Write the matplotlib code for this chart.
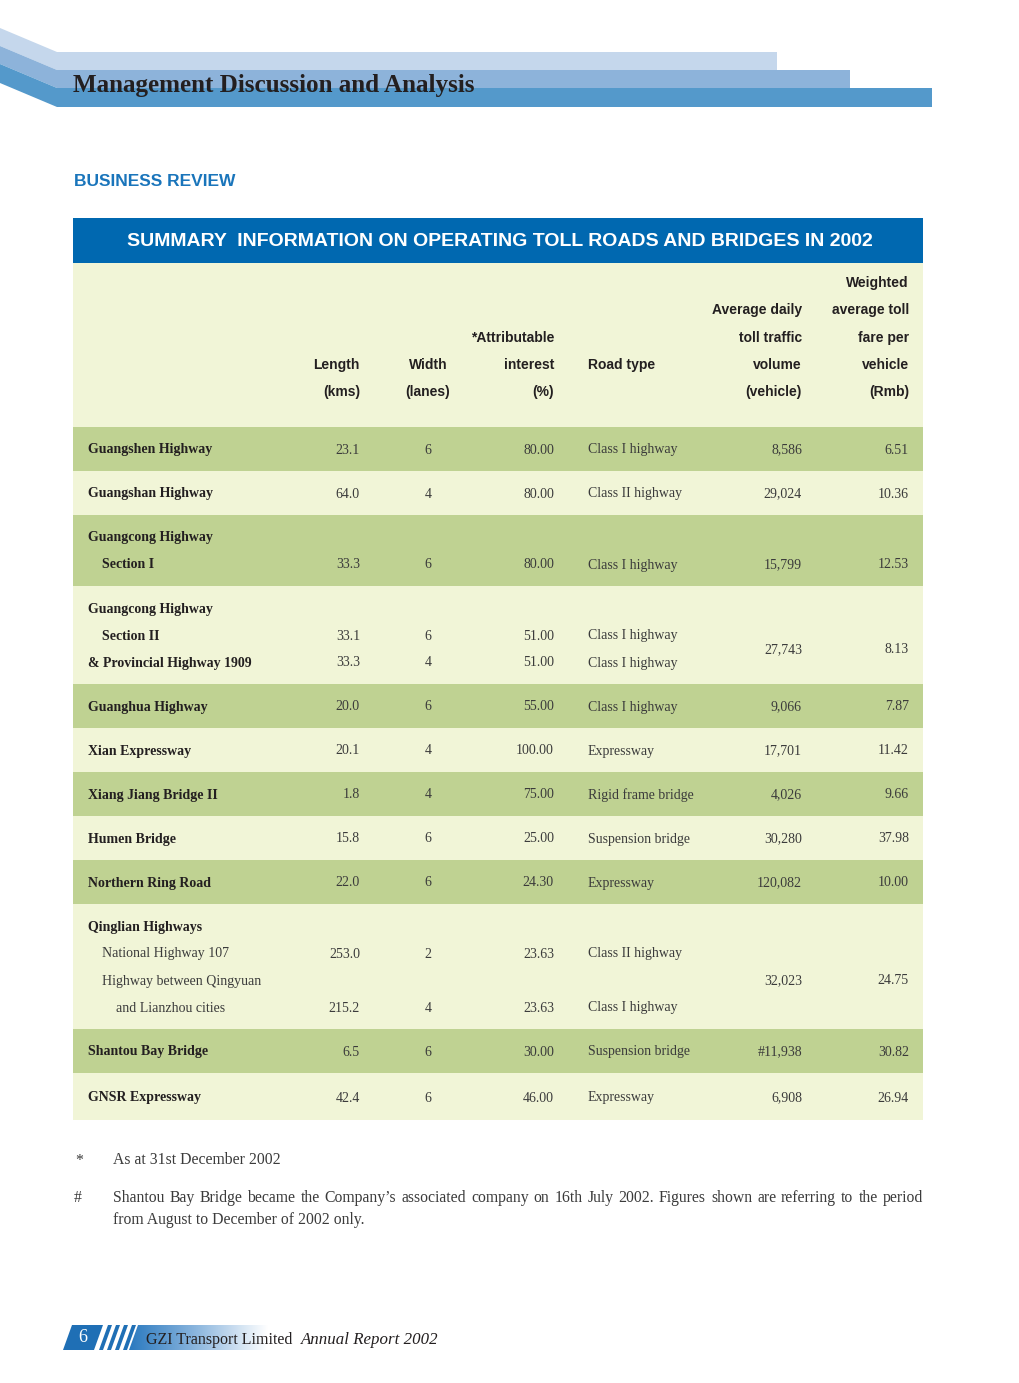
import numpy as np
import matplotlib
matplotlib.use('agg')
import matplotlib.pyplot as plt
from matplotlib.patches import Polygon, Rectangle
from matplotlib.colors import LinearSegmentedColormap

# table data, one entry per printed line of the table body
row_labels = ["Guangshen Highway", "Guangshan Highway", "Guangcong Highway", "Section I",
              "Guangcong Highway", "Section II", "& Provincial Highway 1909",
              "Guanghua Highway", "Xian Expressway", "Xiang Jiang Bridge II", "Humen Bridge",
              "Northern Ring Road", "Qinglian Highways", "National Highway 107",
              "Highway between Qingyuan", "and Lianzhou cities", "Shantou Bay Bridge",
              "GNSR Expressway"]
row_indent = [0, 0, 0, 1, 0, 1, 0, 0, 0, 0, 0, 0, 0, 1, 1, 2, 0, 0]
row_bold = [1, 1, 1, 1, 1, 1, 1, 1, 1, 1, 1, 1, 1, 0, 0, 0, 1, 1]
lengths = ["23.1", "64.0", "", "33.3", "", "33.1", "33.3", "20.0", "20.1", "1.8", "15.8",
           "22.0", "", "253.0", "", "215.2", "6.5", "42.4"]
lanes = ["6", "4", "", "6", "", "6", "4", "6", "4", "4", "6", "6", "", "2", "", "4", "6", "6"]
interest = ["80.00", "80.00", "", "80.00", "", "51.00", "51.00", "55.00", "100.00", "75.00",
            "25.00", "24.30", "", "23.63", "", "23.63", "30.00", "46.00"]
road_types = ["Class I highway", "Class II highway", "", "Class I highway", "",
              "Class I highway", "Class I highway", "Class I highway", "Expressway",
              "Rigid frame bridge", "Suspension bridge", "Expressway", "", "Class II highway",
              "", "Class I highway", "Suspension bridge", "Expressway"]

# one entry per road (group of lines)
group_lines = [1, 1, 2, 3, 1, 1, 1, 1, 1, 4, 1, 1]
volumes = ["8,586", "29,024", "15,799", "27,743", "9,066", "17,701", "4,026", "30,280",
           "120,082", "32,023", "#11,938", "6,908"]
fares = ["6.51", "10.36", "12.53", "8.13", "7.87", "11.42", "9.66", "37.98", "10.00",
         "24.75", "30.82", "26.94"]

# column headings (bottom aligned)
head_length = ["Length", "(kms)"]
head_width = ["Width", "(lanes)"]
head_interest = ["*Attributable", "interest", "(%)"]
head_type = ["Road type", ""]
head_volume = ["Average daily", "toll traffic", "volume", "(vehicle)"]
head_fare = ["Weighted", "average toll", "fare per", "vehicle", "(Rmb)"]

title = "Management Discussion and Analysis"
section = "BUSINESS REVIEW"
banner = "SUMMARY  INFORMATION ON OPERATING TOLL ROADS AND BRIDGES IN 2002"
note1 = "As at 31st December 2002"
note2a = ("Shantou Bay Bridge became the Company\u2019s associated company on 16th July 2002. "
          "Figures shown are referring to the period")
note2b = "from August to December of 2002 only."

W, H = 1020, 1383
fig = plt.figure(figsize=(W / 100, H / 100), dpi=100)
ax = fig.add_axes([0, 0, 1, 1])
ax.axis('off')
ax.set_xlim(0, W)
ax.set_ylim(H, 0)

serif = ['Liberation Serif', 'DejaVu Serif']
sans = ['Liberation Sans', 'DejaVu Sans']

# header stripes
stripes = [(28, 52, 70, 777, '#c5d7ec'), (46, 70, 88, 850, '#8db3da'), (64, 88, 107, 932, '#5499cb')]
for y0, top, bot, right, col in stripes:
    ax.add_patch(Polygon([(0, y0), (57, top), (right, top), (right, bot), (57, bot), (0, y0 + (bot - top))],
                         closed=True, fc=col, ec='none'))
ax.text(73, 92, title, family=serif, fontsize=18.1, fontweight='bold', color='#231f20', va='baseline')

ax.text(74, 181, section, family=sans, fontsize=12.5,
        fontweight='bold', color='#1a75bb', va='center')

# banner + table background
L, R = 73, 923
ax.add_patch(Rectangle((L, 218), R - L, 45, fc='#0068b0', ec='none'))
ax.text((L + R) / 2 + 2, 241, banner, family=sans, fontsize=14, fontweight='bold',
        color='white', ha='center', va='center')
ax.add_patch(Rectangle((L, 263), R - L, 1120 - 263, fc='#f1f5d7', ec='none'))

# column anchors
x_label, x_len, x_wid, x_int, x_type, x_vol, x_fare = 88, 360, 428, 554, 588, 802, 909
head_color = '#231f20'
hy0, hstep = 283, 27.3
for col, xpos, ha in [(head_length, x_len, 'right'), (head_width, x_wid, 'center'),
                      (head_interest, x_int, 'right'), (head_type, x_type, 'left'),
                      (head_volume, x_vol, 'right'), (head_fare, x_fare, 'right')]:
    off = 5 - len(col)
    for k, t in enumerate(col):
        ax.text(xpos, hy0 + (off + k) * hstep, t, family=sans, fontsize=10, fontweight='bold',
                color=head_color, ha=ha, va='center')

# body
y = 427
step, pad = 27.0, 17.0
line = 0
body_color = '#3b3b3b'
for g, n in enumerate(group_lines):
    h = n * step + pad
    last = g == len(group_lines) - 1
    if last:
        h += 3
    if g % 2 == 0:
        ax.add_patch(Rectangle((L, y), R - L, h, fc='#bfd292', ec='none'))
    ys = []
    for k in range(n):
        ty = y + pad / 2 + step / 2 + 1 + k * step + (2 if last else 0)
        i = line + k
        fw = 'bold' if row_bold[i] else 'normal'
        c = '#231f20' if row_bold[i] else body_color
        ax.text(x_label + 14 * row_indent[i], ty, row_labels[i], family=serif, fontsize=10,
                fontweight=fw, color=c, va='center')
        ax.text(x_len, ty, lengths[i], family=serif, fontsize=10, color=body_color, ha='right', va='center')
        ax.text(x_wid, ty, lanes[i], family=serif, fontsize=10, color=body_color, ha='center', va='center')
        ax.text(x_int, ty, interest[i], family=serif, fontsize=10, color=body_color, ha='right', va='center')
        ax.text(x_type, ty, road_types[i], family=serif, fontsize=10, color=body_color, ha='left', va='center')
        if lengths[i]:
            ys.append(ty)
    vy = np.mean(ys)
    ax.text(x_vol, vy, volumes[g], family=serif, fontsize=10, color=body_color, ha='right', va='center')
    ax.text(x_fare, vy, fares[g], family=serif, fontsize=10, color=body_color, ha='right', va='center')
    line += n
    y += h

# footnotes
note_fs = 11.3
ax.text(75, 1161, "*", family=serif, fontsize=note_fs, color=body_color, va='center')
ax.text(113, 1160, note1, family=serif, fontsize=note_fs, color=body_color, va='center')
ax.text(74, 1198, "#", family=serif, fontsize=note_fs, color=body_color, va='center')
ax.text(113, 1220, note2b, family=serif, fontsize=note_fs, color=body_color, va='center')

# justified first line of the second note
renderer = fig.canvas.get_renderer()
words = note2a.split(' ')
wtexts = [ax.text(0, 1198, w, family=serif, fontsize=note_fs, color=body_color, va='center') for w in words]
widths = [t.get_window_extent(renderer).width for t in wtexts]
gap = (R - 113 - sum(widths)) / (len(words) - 1)
xw = 113
for t, wd in zip(wtexts, widths):
    t.set_x(xw)
    xw += wd + gap

# footer
blue = '#1f6fb5'
ax.add_patch(Polygon([(63, 1350), (72, 1325), (103, 1325), (94, 1350)], closed=True, fc=blue, ec='none'))
ax.text(83, 1338, "6", family=serif, fontsize=13, color='white', ha='center', va='center')
for sx in [108, 116, 124, 132]:
    ax.add_patch(Polygon([(sx - 9, 1350), (sx, 1325), (sx + 4, 1325), (sx - 5, 1350)],
                         closed=True, fc=blue, ec='none'))
cmap = LinearSegmentedColormap.from_list('fade', ['#2a79bf', '#8fb8df', '#ffffff'])
grad = np.linspace(0, 1, 256).reshape(1, -1)
im = ax.imshow(grad, cmap=cmap, extent=[129, 268, 1350, 1325], aspect='auto', zorder=1)
clip = Polygon([(129, 1350), (138, 1325), (268, 1325), (268, 1350)], closed=True,
               transform=ax.transData, fc='none', ec='none')
ax.add_patch(clip)
im.set_clip_path(clip)
ax.text(146, 1340, "GZI Transport Limited", family=serif, fontsize=11.5, color='#231f20', va='center', zorder=3)
ax.text(301, 1340, "Annual Report 2002", family=serif, fontsize=12.2, style='italic',
        color='#231f20', va='center', zorder=3)

ax.set_xlim(0, W)
ax.set_ylim(H, 0)
fig.savefig('out.png', dpi=100, facecolor='white')
